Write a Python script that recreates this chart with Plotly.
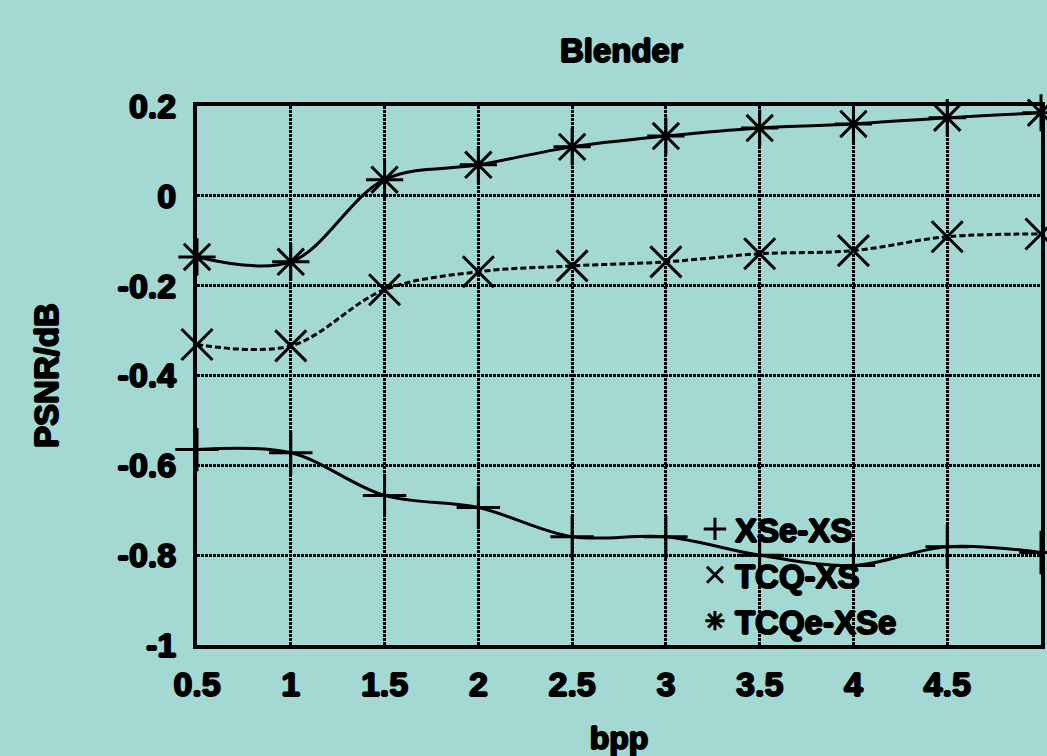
import plotly.graph_objects as go

bpp = [0.5, 1.0, 1.5, 2.0, 2.5, 3.0, 3.5, 4.0, 4.5, 5.0]
xse_xs = [-0.565, -0.572, -0.667, -0.694, -0.759, -0.759, -0.800, -0.823, -0.781, -0.794]
tcq_xs = [-0.331, -0.334, -0.209, -0.169, -0.156, -0.147, -0.129, -0.122, -0.091, -0.085]
tcqe_xse = [-0.136, -0.147, 0.036, 0.069, 0.109, 0.133, 0.151, 0.160, 0.174, 0.185]

x_ticks = [0.5, 1, 1.5, 2, 2.5, 3, 3.5, 4, 4.5, 5]
x_tick_labels = ["0.5", "1", "1.5", "2", "2.5", "3", "3.5", "4", "4.5", "5"]
y_ticks = [-1, -0.8, -0.6, -0.4, -0.2, 0, 0.2]
y_tick_labels = ["-1", "-0.8", "-0.6", "-0.4", "-0.2", "0", "0.2"]

BG = "#a3d9d2"
FONT = "Liberation Sans"
SHADOW = "1px 0 0 black, -1px 0 0 black, 0 1px 0 black, 0 -1px 0 black"

series = [
    ("XSe-XS", xse_xs, "solid", "cross-thin-open"),
    ("TCQ-XS", tcq_xs, "6px,3px", "x-thin-open"),
    ("TCQe-XSe", tcqe_xse, "solid", "asterisk-open"),
]

def f(size):
    return dict(family=FONT, size=size, color="black", weight="bold", shadow=SHADOW)

fig = go.Figure()
for name, ys, dash, sym in series:
    fig.add_trace(go.Scatter(
        x=bpp, y=ys, mode="lines", name=name, showlegend=False,
        line=dict(color="black", width=3, dash=dash, shape="spline", smoothing=1.0),
        legendgroup=name, cliponaxis=False,
    ))
for name, ys, dash, sym in series:
    fig.add_trace(go.Scatter(
        x=bpp, y=ys, mode="markers", name=name, legendgroup=name,
        marker=dict(symbol=sym, size=31, color="black",
                    line=dict(color="black", width=3)),
        cliponaxis=False,
    ))

fig.update_layout(
    width=1047, height=756,
    paper_bgcolor=BG, plot_bgcolor=BG,
    margin=dict(l=197, r=2, t=106, b=111),
    font=f(34),
    title=dict(text="Blender", x=0.5935, xanchor="center", y=0.933, yanchor="middle",
               font=f(33)),
    showlegend=True,
    legend=dict(x=0.59, y=0.13, xanchor="left", yanchor="middle",
                bgcolor="rgba(0,0,0,0)", borderwidth=0,
                font=f(33), itemsizing="trace", tracegroupgap=0),
)
fig.update_xaxes(
    range=[0.5, 5], tickvals=x_ticks, ticktext=x_tick_labels,
    showline=True, linecolor="black", linewidth=4, mirror=True,
    showgrid=True, gridcolor="black", gridwidth=2.5, griddash="3px,1px",
    ticks="", ticklabelstandoff=6, zeroline=False,
    title=dict(text="bpp", standoff=27, font=f(32)),
)
fig.update_yaxes(
    range=[-1, 0.2], tickvals=y_ticks, ticktext=y_tick_labels,
    showline=True, linecolor="black", linewidth=4, mirror=True,
    showgrid=True, gridcolor="black", gridwidth=2.5, griddash="3px,1px",
    ticks="", ticklabelstandoff=10, zeroline=False,
    title=dict(text="PSNR/dB", standoff=50, font=f(33)),
)

fig.write_html("out.html", config={"displayModeBar": False},
               post_script="document.body.style.margin='0';document.body.style.overflow='hidden';")
